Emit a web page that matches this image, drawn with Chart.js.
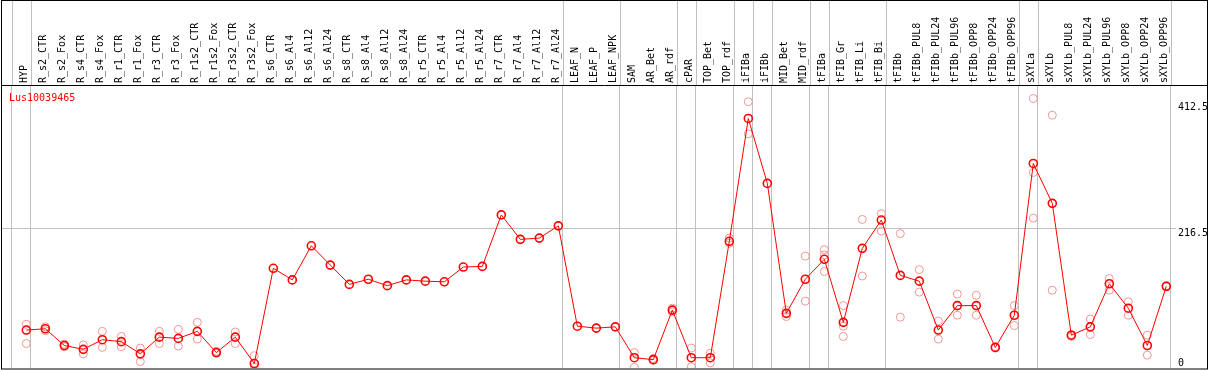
<!DOCTYPE html>
<html>
<head>
<meta charset="utf-8">
<script src="https://cdn.jsdelivr.net/npm/chart.js@4/dist/chart.umd.min.js"></script>
<style>
    html, body { margin: 0; padding: 0; background: #fff; }
    #chartCanvas { display: block; }
</style>
</head>
<body>
<canvas id="chartCanvas" width="1209" height="370"></canvas>
<script>
const geneName = 'Lus10039465';

const categories = [
    'HYP', 'R_s2_CTR', 'R_s2_Fox', 'R_s4_CTR', 'R_s4_Fox', 'R_r1_CTR', 'R_r1_Fox',
    'R_r3_CTR', 'R_r3_Fox', 'R_r1s2_CTR', 'R_r1s2_Fox', 'R_r3s2_CTR', 'R_r3s2_Fox',
    'R_s6_CTR', 'R_s6_Al4', 'R_s6_Al12', 'R_s6_Al24', 'R_s8_CTR', 'R_s8_Al4',
    'R_s8_Al12', 'R_s8_Al24', 'R_r5_CTR', 'R_r5_Al4', 'R_r5_Al12', 'R_r5_Al24',
    'R_r7_CTR', 'R_r7_Al4', 'R_r7_Al12', 'R_r7_Al24', 'LEAF_N', 'LEAF_P', 'LEAF_NPK',
    'SAM', 'AR_Bet', 'AR_rdf', 'cPAR', 'TOP_Bet', 'TOP_rdf', 'iFIBa', 'iFIBb',
    'MID_Bet', 'MID_rdf', 'tFIBa', 'tFIB_Gr', 'tFIB_Li', 'tFIB_Bi', 'tFIBb',
    'tFIBb_PUL8', 'tFIBb_PUL24', 'tFIBb_PUL96', 'tFIBb_OPP8', 'tFIBb_OPP24', 'tFIBb_OPP96',
    'sXYLa', 'sXYLb', 'sXYLb_PUL8', 'sXYLb_PUL24', 'sXYLb_PUL96', 'sXYLb_OPP8',
    'sXYLb_OPP24', 'sXYLb_OPP96'
];

// mean expression per sample
const means = [
    59, 61, 35, 29, 44, 41, 22, 48, 46, 57, 24, 48, 7,
    155, 137, 190, 160, 130, 138, 128, 137, 135, 134, 157, 158,
    238, 200, 202, 221, 65, 62, 64,
    16, 13, 90, 16, 16, 197, 388, 287,
    85, 138, 169, 71, 186, 230, 144,
    135, 59, 97, 97, 32, 82,
    318, 256, 51, 64, 131, 93, 35, 127
];

// individual replicates per sample
const replicates = [
    [68, 38], [64, 58], [37, 33], [36, 22], [57, 32], [49, 33], [31, 10],
    [57, 38], [60, 34], [71, 45], [26, 23], [56, 38], [19, 1],
    [], [], [], [], [], [], [], [], [], [], [], [],
    [], [], [], [], [], [], [],
    [24, 1], [15, 12], [93, 87], [31, 2], [23, 8], [202, 194], [414, 364], [],
    [90, 80], [174, 104], [184, 176, 150], [97, 65, 49], [231, 143], [240, 213], [209, 79],
    [153, 118], [73, 45], [115, 82], [113, 82], [33, 31], [97, 66],
    [419, 304, 233], [393, 121], [52, 49], [76, 52], [139, 121], [103, 82], [51, 20], [128, 126]
];

// index of the last sample in each group (vertical separators)
const groupEnds = [-1, 0, 28, 31, 34, 35, 37, 38, 39, 41, 42, 45, 52, 53, 60];

const yTicks = [0, 216.5, 412.5];

const xMin = -1.28;
const xMax = 60.51;

const meanPoints = means.map((v, i) => ({x: i, y: v}));
const repPoints = [];
replicates.forEach((reps, i) => reps.forEach(v => repPoints.push({x: i, y: v})));

// no extra room for overhanging labels, the frame is fixed
function noPadding(scale) {
    scale.paddingLeft = 0;
    scale.paddingRight = 0;
    scale.paddingTop = 0;
    scale.paddingBottom = 0;
}

// frame, header line, header part of the separators, gene name
const framePlugin = {
    id: 'frame',
    afterDraw(chart) {
        const ctx = chart.ctx;
        const area = chart.chartArea;
        const sep = chart.scales.xSep;
        ctx.save();
        ctx.lineWidth = 1;
        ctx.strokeStyle = '#c0c0c0';
        sep.ticks.forEach(t => {
            const x = Math.round(sep.getPixelForValue(t.value)) + 0.5;
            ctx.beginPath();
            ctx.moveTo(x, 0);
            ctx.lineTo(x, area.top);
            ctx.stroke();
        });
        ctx.strokeStyle = '#000';
        ctx.beginPath();
        ctx.moveTo(1, area.top + 0.5);
        ctx.lineTo(1208, area.top + 0.5);
        ctx.stroke();
        ctx.strokeRect(1.5, 0.5, 1206, 368.5);
        ctx.fillStyle = '#ff0000';
        ctx.font = '10px "DejaVu Sans Mono"';
        ctx.textBaseline = 'alphabetic';
        ctx.fillText(geneName, 9, area.top + 16);
        ctx.restore();
    }
};

Chart.defaults.font.family = '"DejaVu Sans Mono", monospace';
Chart.defaults.font.size = 10;
Chart.defaults.color = '#000';

new Chart(document.getElementById('chartCanvas').getContext('2d'), {
    type: 'line',
    data: {
        datasets: [{
            label: 'mean',
            data: meanPoints,
            borderColor: '#ff0000',
            borderWidth: 1,
            pointRadius: 4,
            pointBorderWidth: 1.6,
            pointBorderColor: '#ff0000',
            pointBackgroundColor: 'rgba(0,0,0,0)',
            tension: 0,
            order: 0
        }, {
            label: 'replicates',
            data: repPoints,
            showLine: false,
            pointRadius: 4,
            pointBorderWidth: 1,
            pointBorderColor: 'rgb(240, 150, 150)',
            pointBackgroundColor: 'rgba(0,0,0,0)',
            order: 1
        }]
    },
    options: {
        responsive: false,
        animation: false,
        events: [],
        layout: {
            autoPadding: false,
            padding: {left: 2, right: 0, top: 0, bottom: 2}
        },
        plugins: {
            legend: {display: false},
            tooltip: {enabled: false}
        },
        scales: {
            x: {
                type: 'linear',
                position: 'top',
                min: xMin,
                max: xMax,
                afterBuildTicks: scale => {
                    scale.ticks = categories.map((c, i) => ({value: i}));
                },
                afterFit: scale => { scale.height = 85; noPadding(scale); },
                grid: {display: false, drawTicks: false},
                border: {display: false},
                ticks: {
                    autoSkip: false,
                    minRotation: 90,
                    maxRotation: 90,
                    padding: 2,
                    labelOffset: 10,
                    callback: value => categories[value]
                }
            },
            xSep: {
                type: 'linear',
                position: 'top',
                min: xMin,
                max: xMax,
                afterBuildTicks: scale => {
                    scale.ticks = groupEnds.map(i => ({value: i + 0.23}));
                },
                afterFit: scale => { scale.height = 0; noPadding(scale); },
                grid: {color: '#c0c0c0', drawTicks: false, lineWidth: 1},
                border: {display: false},
                ticks: {display: false}
            },
            y: {
                position: 'right',
                min: 0,
                max: 440,
                afterBuildTicks: scale => {
                    scale.ticks = yTicks.map(v => ({value: v}));
                },
                afterFit: scale => { scale.width = 33; noPadding(scale); },
                grid: {
                    drawTicks: false,
                    color: ctx => (ctx.tick && ctx.tick.value === 216.5) ? '#c0c0c0' : 'rgba(0,0,0,0)'
                },
                border: {display: false},
                ticks: {
                    padding: 2,
                    font: {lineHeight: 0.9},
                    callback: value => value === 0 ? ['0', ''] : ['', String(value)]
                }
            }
        }
    },
    plugins: [framePlugin]
});
</script>
</body>
</html>
